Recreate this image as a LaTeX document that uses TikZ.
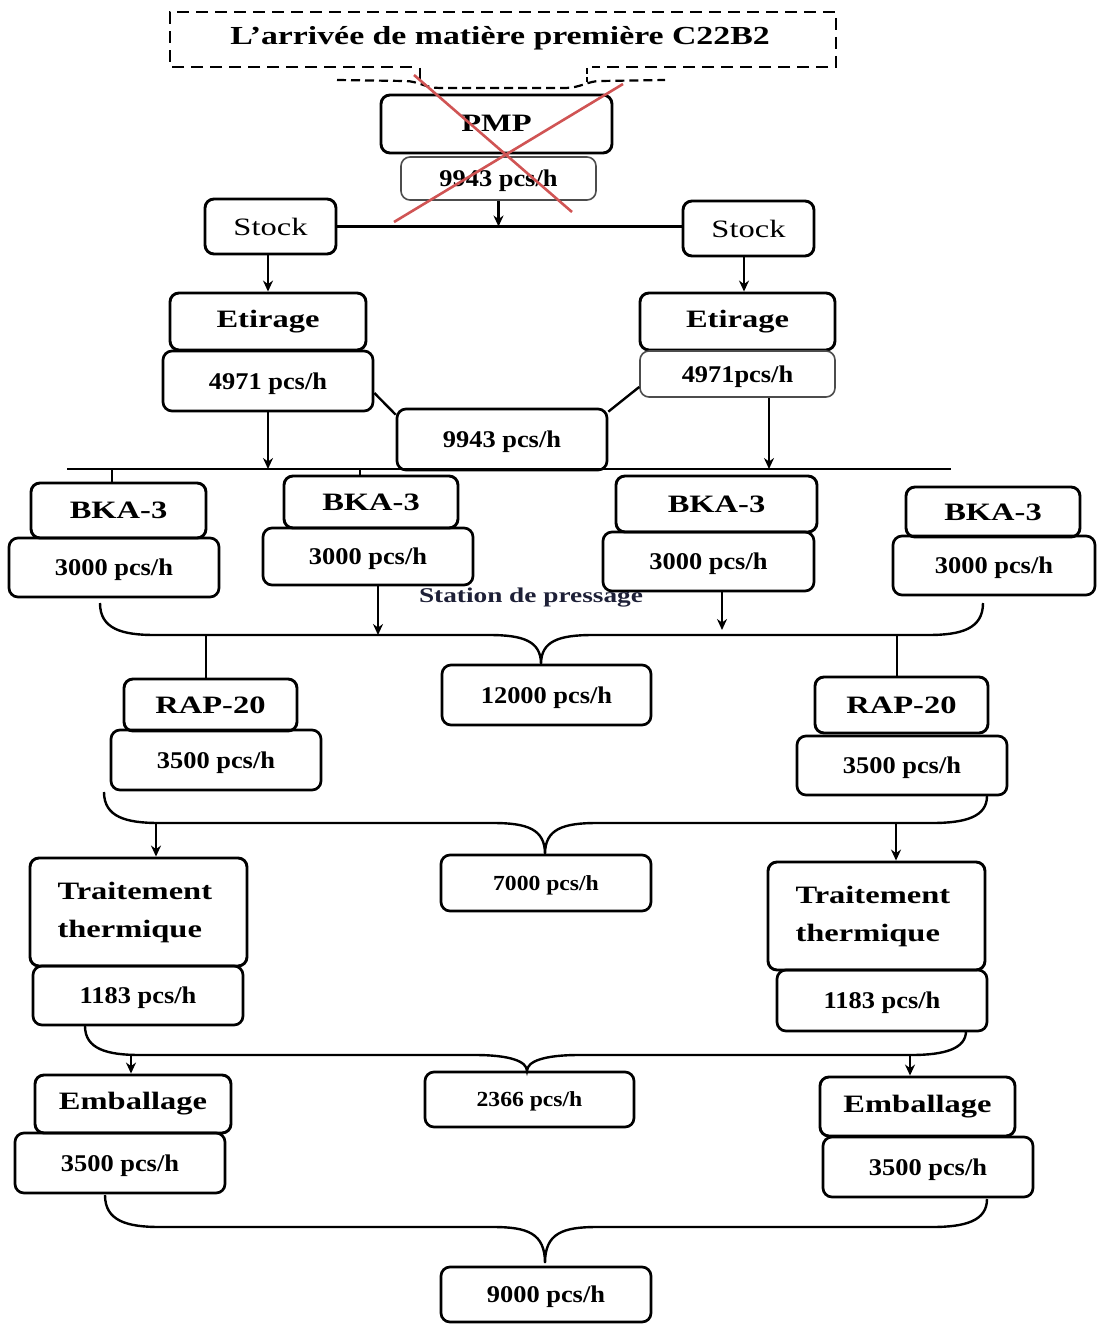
\documentclass[tikz,border=0pt]{standalone}
\usepackage{fontspec}
\setmainfont{Liberation Serif}
\newfontfamily\titlefam[FakeStretch=1.3]{Liberation Serif}
\newfontfamily\valfam[FakeStretch=1.1]{Liberation Serif}
\usetikzlibrary{arrows.meta}
\definecolor{crossred}{RGB}{208,84,84}
\definecolor{stationc}{RGB}{30,32,55}
\newcommand\titlef{\titlefam\bfseries\fontsize{25}{30}\selectfont}
\newcommand\bigtitlef{\titlefam\bfseries\fontsize{26}{30}\selectfont}
\newcommand\twolinef{\titlefam\bfseries\fontsize{25}{38}\selectfont}
\newcommand\stockf{\titlefam\fontsize{25}{30}\selectfont}
\newcommand\valf{\valfam\bfseries\fontsize{24}{28}\selectfont}
\newcommand\valsf{\valfam\bfseries\fontsize{21.5}{26}\selectfont}
\newcommand\stationf{\titlefam\bfseries\fontsize{21}{26}\selectfont}
\newcommand\bx[7]{%
  \pgfmathsetmacro\bxcx{(#3+#5)/2}%
  \pgfmathsetmacro\bxcy{(#4+#6)/2}%
  \pgfmathsetmacro\bxw{#5-#3}%
  \pgfmathsetmacro\bxh{#6-#4}%
  \node[#1, minimum width=\bxw pt, minimum height=\bxh pt] (#2) at (\bxcx,\bxcy) {#7};}
\newcommand\bracepath[7]{%
  \draw[conn] (#1,#2) .. controls (#1,{#3-6}) and ({#1+22},#3) .. ({#1+55},#3)
    -- ({#4-52},#3) .. controls ({#4-18},#3) and (#4,{#3+6}) .. (#4,#5)
    .. controls (#4,{#3+6}) and ({#4+18},#3) .. ({#4+52},#3)
    -- ({#6-55},#3) .. controls ({#6-22},#3) and (#6,{#3-6}) .. (#6,#7);}
\tikzset{
  tbox/.style={draw, rounded corners=9pt, line width=2.9pt, inner sep=0pt, font=\titlef},
  vbox/.style={draw, rounded corners=9pt, line width=2.7pt, inner sep=0pt, font=\valf, text depth=0pt},
  thinbox/.style={vbox, line width=1.6pt, draw=black!70},
  conn/.style={line width=2.4pt},
  arr/.style={conn, -{Stealth[length=11pt,width=10pt]}},
  dashline/.style={line width=2.8pt, dash pattern=on 12pt off 7pt},
  cross/.style={line width=2.6pt, draw=crossred}
}
\begin{document}
\begin{tikzpicture}[x=1pt,y=-1pt]
\useasboundingbox (0,0) rectangle (1097,1324);
% title
\node[font=\bigtitlef] (title) at (500,38) {L’arrivée de matière première C22B2};
\draw[dashline] (412,67) -- (170,67) -- (170,12) -- (836,12) -- (836,67) -- (592,67);
\draw[line width=2.2pt, dash pattern=on 9pt off 5pt] (337,80) -- (405,81) .. controls (418,81) and (425,88) .. (440,88) -- (565,88) .. controls (580,88) and (588,81) .. (600,81) -- (665,80);
\draw[line width=2.2pt] (420,68) -- (420,79);
\draw[line width=2.2pt, dash pattern=on 6pt off 3pt] (587,68) -- (587,82);
% PMP
\bx{tbox}{pmp}{381}{95}{612}{153}{\raisebox{2pt}{PMP}}
\bx{thinbox}{pmpv}{401}{157}{596}{200}{9943 pcs/h}
% Stock
\bx{tbox,font=\stockf}{st1}{205}{199}{336}{254}{Stock}
\bx{tbox,font=\stockf}{st2}{683}{201}{814}{256}{Stock}
\draw[conn] (st1.east) -- (st1.east -| st2.west);
\draw[arr] (pmpv.south) -- (pmpv.south |- st1.east);
% Etirage
\bx{tbox}{et1}{170}{293}{366}{350}{Etirage}
\bx{tbox}{et2}{640}{293}{835}{350}{Etirage}
\draw[arr] (et1.north |- st1.south) -- (et1.north);
\draw[arr] ([xshift=-4.5pt]st2.south) -- ([xshift=-4.5pt]st2.south |- et2.north);
\bx{vbox}{v1}{163}{351}{373}{411}{4971 pcs/h}
\bx{thinbox}{v2}{640}{351}{835}{397}{4971pcs/h}
\bx{vbox}{c9943}{397}{409}{607}{470}{9943 pcs/h}
\draw[conn] ([yshift=-12pt]v1.east) -- ([yshift=-7pt]c9943.north west);
\draw[conn] ([yshift=-13pt]v2.west) -- ([yshift=-4pt]c9943.north east);
% distribution line
\coordinate (hl) at (67,469);
\coordinate (hr) at (951,469);
\draw[conn] (hl) -- (hr);
\draw[arr] (v1.south) -- (v1.south |- hl);
\draw[arr] ([xshift=31.5pt]v2.south) -- ([xshift=31.5pt]v2.south |- hl);
% BKA-3
\bx{tbox}{b1}{31}{483}{206}{538}{BKA-3}
\bx{vbox}{bv1}{9}{538}{219}{597}{3000 pcs/h}
\bx{tbox}{b2}{284}{476}{458}{528}{BKA-3}
\bx{vbox}{bv2}{263}{528}{473}{585}{3000 pcs/h}
\bx{tbox}{b3}{616}{476}{817}{532}{BKA-3}
\bx{vbox}{bv3}{603}{532}{814}{591}{3000 pcs/h}
\bx{tbox}{b4}{906}{487}{1080}{537}{BKA-3}
\bx{vbox}{bv4}{893}{536}{1095}{595}{3000 pcs/h}
\draw[conn] ([xshift=-6.5pt]b1.north) -- ([xshift=-6.5pt]b1.north |- hl);
\draw[conn] ([xshift=-11pt]b2.north) -- ([xshift=-11pt]b2.north |- hl);
\node[font=\stationf, text=stationc] (station) at (531,598) {Station de pressage};
% brace 1
\bracepath{100}{603}{635}{541}{664}{983}{603}
\coordinate (br1) at (0,635);
\coordinate (br1a) at (0,630);
\draw[arr] ([xshift=10pt]bv2.south) -- ([xshift=10pt]bv2.south |- br1);
\draw[arr] ([xshift=13.5pt]bv3.south) -- ([xshift=13.5pt]bv3.south |- br1a);
\bx{vbox}{c12000}{442}{665}{651}{725}{12000 pcs/h}
% RAP-20
\bx{tbox}{r1}{124}{679}{297}{731}{RAP-20}
\bx{vbox}{rv1}{111}{730}{321}{790}{3500 pcs/h}
\bx{tbox}{r2}{815}{677}{988}{733}{RAP-20}
\bx{vbox}{rv2}{797}{736}{1007}{795}{3500 pcs/h}
\draw[conn] ([xshift=-4.5pt]r1.north |- br1) -- ([xshift=-4.5pt]r1.north);
\draw[conn] ([xshift=-4.5pt]r2.north |- br1) -- ([xshift=-4.5pt]r2.north);
% brace 2
\bracepath{104}{792}{823}{545}{854}{987}{796}
\coordinate (br2) at (0,823);
\bx{vbox,font=\valsf}{c7000}{441}{855}{651}{911}{7000 pcs/h}
% Traitement thermique
\bx{tbox,font=\twolinef,align=left}{t1}{30}{858}{247}{966}{\raisebox{4pt}{\parbox{162pt}{Traitement\\thermique}}}
\bx{vbox}{tv1}{33}{966}{243}{1025}{1183 pcs/h}
\bx{tbox,font=\twolinef,align=left}{t2}{768}{862}{985}{970}{\raisebox{4pt}{\parbox{162pt}{Traitement\\thermique}}}
\bx{vbox}{tv2}{777}{970}{987}{1031}{1183 pcs/h}
\draw[arr] ([xshift=17.5pt]t1.north |- br2) -- ([xshift=17.5pt]t1.north);
\draw[arr] ([xshift=19.5pt]t2.north |- br2) -- ([xshift=19.5pt]t2.north);
% brace 3
\bracepath{85}{1026}{1055}{527}{1071}{966}{1031}
\coordinate (br3) at (0,1055);
\bx{vbox,font=\valsf}{c2366}{425}{1072}{634}{1127}{2366 pcs/h}
% Emballage
\bx{tbox}{e1}{35}{1075}{231}{1133}{Emballage}
\bx{vbox}{ev1}{15}{1133}{225}{1193}{3500 pcs/h}
\bx{tbox}{e2}{820}{1077}{1015}{1136}{Emballage}
\bx{vbox}{ev2}{823}{1137}{1033}{1197}{3500 pcs/h}
\draw[arr] ([xshift=-2pt]e1.north |- br3) -- ([xshift=-2pt]e1.north);
\draw[arr] ([xshift=-7.5pt]e2.north |- br3) -- ([xshift=-7.5pt]e2.north);
% brace 4
\bracepath{105}{1195}{1227}{545}{1263}{987}{1199}
\bx{vbox}{c9000}{441}{1267}{651}{1322}{9000 pcs/h}
% red cross
\draw[cross] (414,75) -- (572,212);
\draw[cross] (623,84) -- (394,222);
\end{tikzpicture}
\end{document}
